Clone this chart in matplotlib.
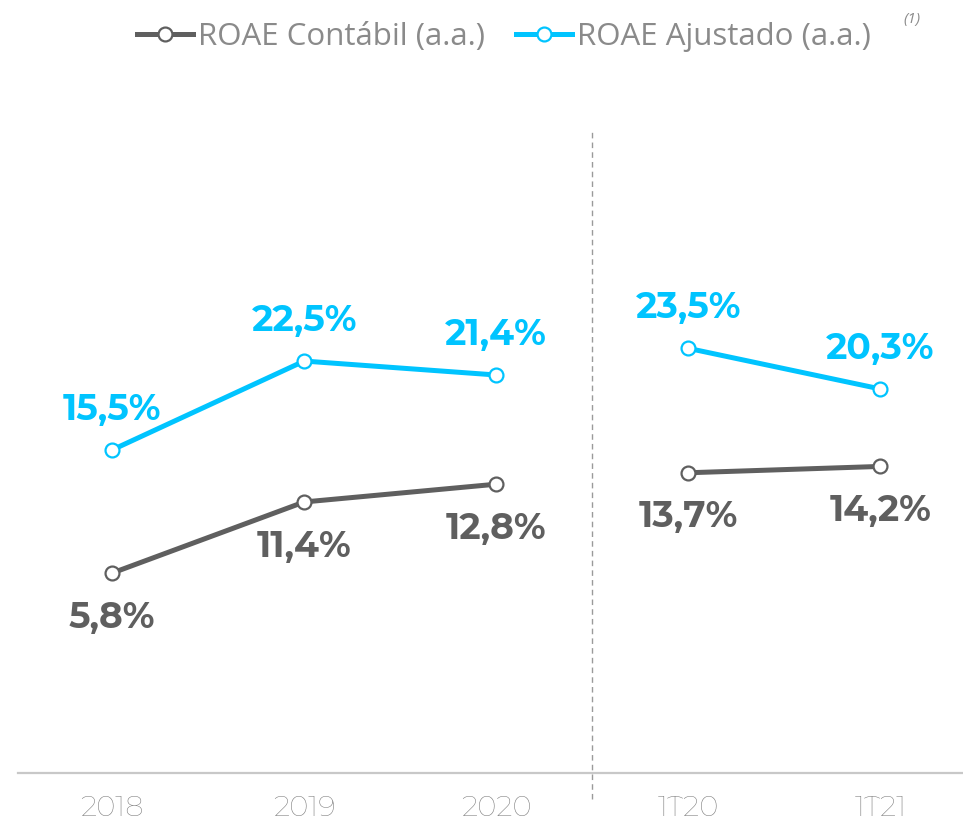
import matplotlib.pyplot as plt
from matplotlib.lines import Line2D

# --- DATA ---
categories = ['2018', '2019', '2020', '1T20', '1T21']
roae_contabil = [5.8, 11.4, 12.8, 13.7, 14.2]
roae_ajustado = [15.5, 22.5, 21.4, 23.5, 20.3]
groups = [[0, 1, 2], [3, 4]]  # annual vs quarterly, not connected

GRAY = '#5f5f5f'
CYAN = '#00c4ff'
TEXT_GRAY = '#8a8a8a'
NUM_FONT = ['Montserrat Alternates', 'DejaVu Sans']
LEG_FONT = ['Open Sans', 'DejaVu Sans']

plt.rcParams['font.family'] = NUM_FONT

# --- FIGURE ---
fig = plt.figure(figsize=(9.63, 8.24), dpi=100)
ax = fig.add_axes([18 / 963, 51 / 824, 945 / 963, 643 / 824])
ax.set_xlim(-0.49, 4.43)
ax.set_ylim(-9.95, 40.7)
for s in ax.spines.values():
    s.set_visible(False)
ax.axhline(-9.95, color='#c8c8c8', lw=1.6, clip_on=False)
ax.set_yticks([])
ax.set_xticks(range(len(categories)))
ax.set_xticklabels(categories, fontsize=21, color='#7a7a7a', fontweight='light')
ax.tick_params(axis='x', length=0, pad=16)

# divider between annual and quarterly
ax.axvline(2.5, ymin=-0.04, ymax=1.0, color='#9a9a9a', lw=1, ls=(0, (4, 3)), clip_on=False)

marker_style = dict(marker='o', markersize=10, markerfacecolor='white', markeredgewidth=1.6)

for idx in groups:
    ax.plot(idx, [roae_contabil[i] for i in idx], color=GRAY, lw=3.6,
            markeredgecolor=GRAY, **marker_style, zorder=3)
    ax.plot(idx, [roae_ajustado[i] for i in idx], color=CYAN, lw=3.6,
            markeredgecolor=CYAN, **marker_style, zorder=3)

def fmt(v):
    return f'{v:.1f}%'.replace('.', ',')

for i in range(len(categories)):
    ax.annotate(fmt(roae_ajustado[i]), (i, roae_ajustado[i]), xytext=(0, 29),
                textcoords='offset points', ha='center', va='center',
                fontsize=26, fontweight='bold', color=CYAN)
    ax.annotate(fmt(roae_contabil[i]), (i, roae_contabil[i]), xytext=(0, -32),
                textcoords='offset points', ha='center', va='center',
                fontsize=26, fontweight='bold', color=GRAY)

# --- LEGEND ---
handles = [
    Line2D([], [], color=GRAY, lw=3.6, markeredgecolor=GRAY, **marker_style),
    Line2D([], [], color=CYAN, lw=3.6, markeredgecolor=CYAN, **marker_style),
]
leg = fig.legend(handles, ['ROAE Contábil (a.a.)', 'ROAE Ajustado (a.a.)'],
                 loc='center', bbox_to_anchor=(504 / 963, 1 - 37 / 824), ncol=2,
                 frameon=False, prop={'family': LEG_FONT, 'size': 22.5},
                 handlelength=1.8, handletextpad=0.15, columnspacing=1.0,
                 labelcolor=TEXT_GRAY)
fig.text(912 / 963, 1 - 20 / 824, '(1)', fontsize=11, style='italic',
         family=LEG_FONT, color=TEXT_GRAY, ha='center', va='center')

fig.savefig('out.png', dpi=100)
